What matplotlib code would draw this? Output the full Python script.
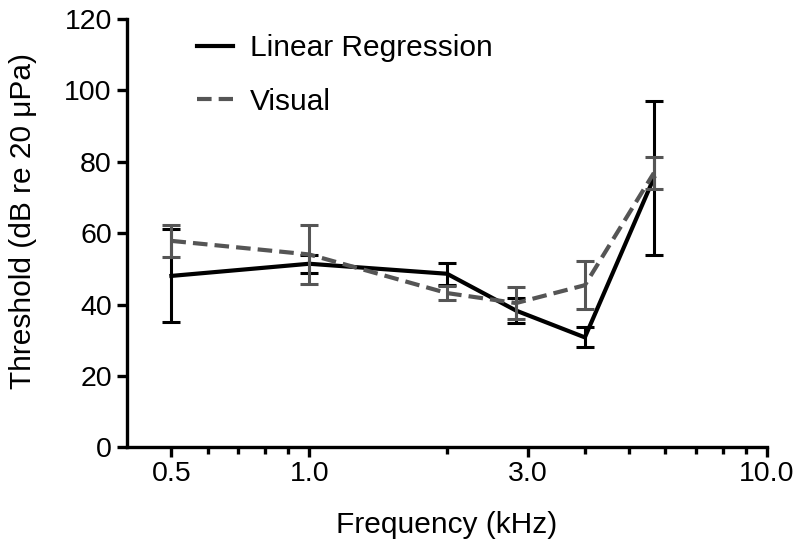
import numpy as np
import matplotlib
matplotlib.use("Agg")
import matplotlib.pyplot as plt
from matplotlib.lines import Line2D
from matplotlib.ticker import FixedLocator, FixedFormatter, NullFormatter

plt.rcParams['font.family'] = ['Liberation Sans', 'DejaVu Sans']

# Data
freq = [0.5, 1.0, 2.0, 2.83, 4.0, 5.66]
lr_mean = [48.0, 51.4, 48.6, 38.3, 30.8, 75.4]
lr_err = [13.0, 2.5, 3.1, 3.4, 2.8, 21.6]
vis_mean = [57.8, 54.0, 43.2, 40.4, 45.4, 76.8]
vis_err = [4.4, 8.2, 2.0, 4.5, 6.7, 4.5]

major_ticks = [0.5, 1.0, 3.0, 10.0]
major_labels = ["0.5", "1.0", "3.0", "10.0"]
minor_ticks = [0.6, 0.7, 0.8, 0.9, 2, 4, 5, 6, 7, 8, 9]

fig = plt.figure(figsize=(8.01, 5.48), dpi=100)
ax = fig.add_axes([0.1586, 0.1834, 0.7990, 0.7828])

gray = "#555555"
ax.errorbar(freq, lr_mean, yerr=lr_err, color="black", lw=3, elinewidth=2.2,
            capsize=6.3, capthick=2.2, zorder=3)
ax.errorbar(freq, vis_mean, yerr=vis_err, color=gray, lw=3, elinewidth=2.2,
            capsize=6.3, capthick=2.2, dashes=(3.5, 1.7), zorder=4)

ax.set_xscale("log")
ax.set_xlim(0.4, 10)
ax.set_ylim(0, 120)
ax.xaxis.set_major_locator(FixedLocator(major_ticks))
ax.xaxis.set_major_formatter(FixedFormatter(major_labels))
ax.xaxis.set_minor_locator(FixedLocator(minor_ticks))
ax.xaxis.set_minor_formatter(NullFormatter())
ax.set_yticks(np.arange(0, 121, 20))

for s in ["top", "right"]:
    ax.spines[s].set_visible(False)
for s in ["left", "bottom"]:
    ax.spines[s].set_linewidth(2.4)

ax.tick_params(which="major", length=7, width=2.4, labelsize=20.5, pad=3)
ax.tick_params(axis="y", pad=4)
ax.tick_params(which="minor", length=5, width=2.4)

ax.set_xlabel("Frequency (kHz)", fontsize=21.5, va="center")
ax.xaxis.set_label_coords(0.5, -0.18)
ax.set_ylabel("Threshold (dB re 20 μPa)", fontsize=21.5, va="center")
ax.yaxis.set_label_coords(-0.1625, 0.528)

handles = [Line2D([], [], color="black", lw=3),
           Line2D([], [], color=gray, lw=3, dashes=(3.5, 1.7))]
ax.legend(handles, ["Linear Regression", "Visual"], loc="upper left",
          bbox_to_anchor=(0.109, 0.963), frameon=False, borderpad=0,
          borderaxespad=0, fontsize=21.5, handlelength=1.2,
          handletextpad=0.57, labelspacing=0.85)

fig.savefig("out.png", dpi=100)
